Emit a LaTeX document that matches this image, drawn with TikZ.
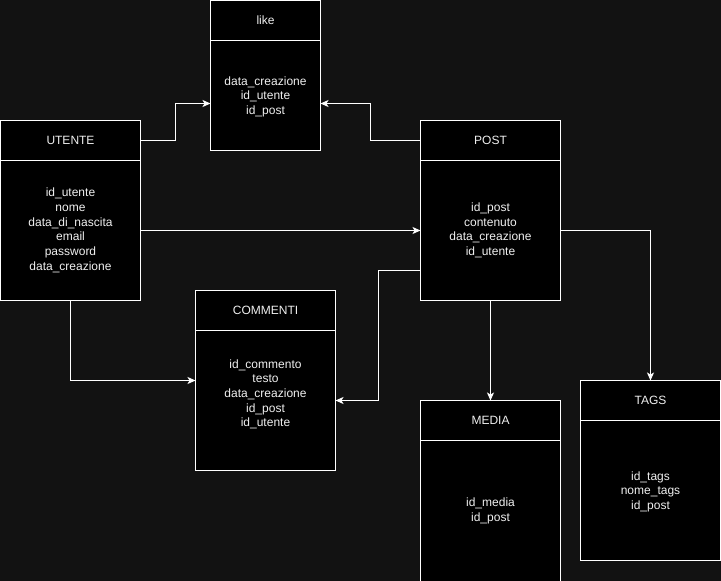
\documentclass[tikz,border=0pt]{standalone}
\usepackage{fontspec}
\setmainfont{Liberation Sans}
\usetikzlibrary{calc,arrows.meta}
\definecolor{bgc}{RGB}{18,18,18}
\definecolor{txc}{RGB}{240,240,240}
\tikzset{
  tblbox/.style={draw=white, fill=black, line width=0.75pt, inner sep=0pt, outer sep=0pt, rectangle},
  tblline/.style={draw=white, line width=0.75pt},
  tbltitle/.style={text=txc, font=\fontsize{9pt}{11pt}\selectfont, inner sep=0pt},
  tblbody/.style={text=txc, font=\fontsize{9pt}{11pt}\selectfont, align=center, inner sep=0pt},
  conn/.style={draw=white, line width=0.75pt, -{Stealth[length=6pt,width=5.25pt,inset=1.5pt]}},
}
\newcommand\ertable[8]{%
  \node[tblbox, minimum width=#4, minimum height=#5, anchor=north west] (#1) at (#2,#3) {};
  \draw[tblline] ([yshift=-30pt]#1.north west) -- ([yshift=-30pt]#1.north east);
  \node[tbltitle] (#1-t) at ([yshift=-15pt]#1.north) {#6};
  \node[tblbody, yshift=#8] (#1-b) at ($(#1.south)!0.5!([yshift=-30pt]#1.north)$) {#7};
}
\begin{document}
\begin{tikzpicture}[x=0.75pt,y=-0.75pt]
\fill[bgc] (0,0) rectangle (721,581);
\useasboundingbox (0,0) rectangle (721,581);
\ertable{like}{210.5}{0.5}{82.5pt}{112.5pt}{like}{data\_creazione\\id\_utente\\id\_post}{-1pt}
\ertable{utente}{0.5}{120.5}{105pt}{135pt}{UTENTE}{id\_utente\\nome\\data\_di\_nascita\\email\\password\\data\_creazione}{0pt}
\ertable{post}{420.5}{120.5}{105pt}{135pt}{POST}{id\_post\\contenuto\\data\_creazione\\id\_utente}{0pt}
\ertable{commenti}{195.5}{290.5}{105pt}{135pt}{COMMENTI}{id\_commento\\testo\\data\_creazione\\id\_post\\id\_utente}{4.5pt}
\ertable{media}{420.5}{400.5}{105pt}{135.75pt}{MEDIA}{id\_media\\id\_post}{0pt}
\ertable{tags}{580.5}{380.5}{105pt}{135pt}{TAGS}{id\_tags\\nome\_tags\\id\_post}{-1pt}
% connectors
\draw[conn] ([yshift=-15pt]utente.north east) -- ++(26.25pt,0) |- ([yshift=-77.25pt]like.north west);
\draw[conn] ([yshift=-15pt]post.north west) -- ++(-37.5pt,0) |- ([yshift=-77.25pt]like.north east);
\draw[conn] ([yshift=-82.5pt]utente.north east) -- ([yshift=-82.5pt]post.north west);
\draw[conn] (utente.south) |- ([yshift=-67.5pt]commenti.north west);
\draw[conn] ([yshift=-112.5pt]post.north west) -- ++(-31.5pt,0) |- ([yshift=-82.5pt]commenti.north east);
\draw[conn] (post.south) -- (media.north);
\draw[conn] ([yshift=-82.5pt]post.north east) -| (tags.north);
\end{tikzpicture}
\end{document}
